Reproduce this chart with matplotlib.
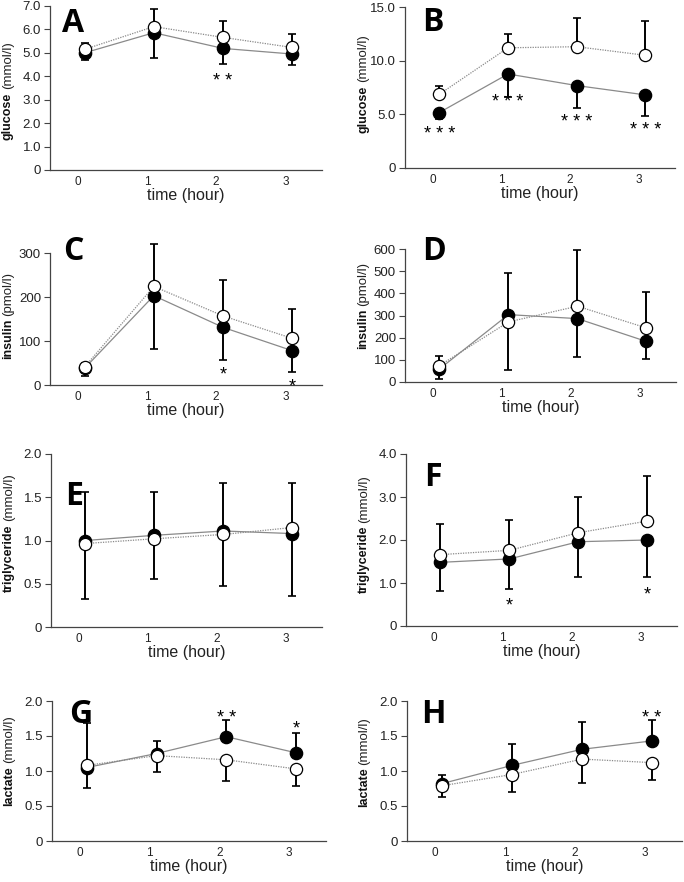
import matplotlib
matplotlib.use('Agg')
import matplotlib.pyplot as plt
import matplotlib.transforms as mtransforms
import numpy as np

plt.rcParams['font.family'] = ['Liberation Sans', 'DejaVu Sans']

hours = [0, 1, 2, 3]

# A - glucose
a_filled = [5.0, 5.86, 5.19, 4.95]
a_filled_sd = [0.31, 1.08, 0.68, 0.47]
a_open = [5.15, 6.12, 5.66, 5.23]
a_open_sd = [0.28, 0.74, 0.71, 0.56]
a_stars = [(2, '**', 4.05)]

# B - glucose
b_filled = [5.17, 8.76, 7.68, 6.81]
b_filled_sd = [0.57, 2.1, 2.11, 1.95]
b_open = [6.87, 11.2, 11.3, 10.5]
b_open_sd = [0.73, 1.3, 2.7, 3.2]
b_stars = [(0, '***', 3.7), (1, '***', 6.65), (2, '***', 4.8), (3, '***', 4.0)]

# C - insulin
c_filled = [38, 203, 131, 78]
c_filled_sd = [17, 122, 74, 49]
c_open = [41, 224, 157, 106]
c_open_sd = [8, 97, 82, 67]
c_stars = [(2, '*', 36), (3, '*', 9)]

# D - insulin
d_filled = [59, 304, 286, 183]
d_filled_sd = [45, 188, 175, 78]
d_open = [74, 271, 342, 244]
d_open_sd = [45, 215, 255, 160]
d_stars = []

# E - triglyceride
e_filled = [1.00, 1.06, 1.11, 1.08]
e_filled_sd = [0.56, 0.50, 0.55, 0.72]
e_open = [0.965, 1.02, 1.07, 1.15]
e_open_sd = [0.64, 0.47, 0.60, 0.52]
e_stars = []

# F - triglyceride
f_filled = [1.48, 1.56, 1.96, 2.0]
f_filled_sd = [0.67, 0.71, 0.82, 0.85]
f_open = [1.66, 1.76, 2.17, 2.44]
f_open_sd = [0.71, 0.70, 0.83, 1.05]
f_stars = [(1, '*', 0.6), (3, '*', 0.87)]

# G - lactate
g_filled = [1.05, 1.25, 1.49, 1.26]
g_filled_sd = [0.29, 0.18, 0.24, 0.29]
g_open = [1.08, 1.22, 1.16, 1.03]
g_open_sd = [0.60, 0.24, 0.30, 0.24]
g_stars = [(2, '**', 1.83), (3, '*', 1.68)]

# H - lactate
h_filled = [0.82, 1.08, 1.31, 1.43]
h_filled_sd = [0.13, 0.30, 0.39, 0.30]
h_open = [0.79, 0.95, 1.17, 1.12]
h_open_sd = [0.16, 0.25, 0.34, 0.25]
h_stars = [(3, '**', 1.84)]

glucose_a_ticks = [0, 1, 2, 3, 4, 5, 6, 7]
glucose_a_labels = ['0', '1.0', '2.0', '3.0', '4.0', '5.0', '6.0', '7.0']
glucose_b_ticks = [0, 5, 10, 15]
glucose_b_labels = ['0', '5.0', '10.0', '15.0']
insulin_c_ticks = [0, 100, 200, 300]
insulin_d_ticks = [0, 100, 200, 300, 400, 500, 600]
tg_e_ticks = [0, 0.5, 1.0, 1.5, 2.0]
tg_e_labels = ['0', '0.5', '1.0', '1.5', '2.0']
tg_f_ticks = [0, 1, 2, 3, 4]
tg_f_labels = ['0', '1.0', '2.0', '3.0', '4.0']
lac_ticks = [0, 0.5, 1.0, 1.5, 2.0]
lac_labels = ['0', '0.5', '1.0', '1.5', '2.0']

W, H = 684, 882
fig = plt.figure(figsize=(W / 100, H / 100), dpi=100)


def px_axes(left, right, top, bottom):
    return fig.add_axes([left / W, (H - bottom) / H, (right - left) / W, (bottom - top) / H])


def panel(ax, filled, filled_sd, opn, opn_sd, stars, ylim, ticks, labels,
          name, unit, split, letter, letter_xy):
    x = np.array(hours) + 0.1
    f = np.array(filled, float)
    o = np.array(opn, float)
    fs = np.array(filled_sd, float)
    osd = np.array(opn_sd, float)
    # the higher mean gets the upper bar, the lower mean the lower bar
    f_high = f >= o
    f_err = [np.where(f_high, 0, fs), np.where(f_high, fs, 0)]
    o_err = [np.where(f_high, osd, 0), np.where(f_high, 0, osd)]
    for y, err in ((f, f_err), (o, o_err)):
        eb = ax.errorbar(x, y, yerr=err, fmt='none', ecolor='black',
                         elinewidth=1.4, capsize=3, capthick=1.2, zorder=2)
        for art in list(eb.lines[1]) + list(eb.lines[2]):
            art.set_clip_on(False)
    ax.plot(x, f, '-', color='#8a8a8a', lw=0.9, zorder=3)
    ax.plot(x, o, linestyle=(0, (1, 1)), color='#8a8a8a', lw=0.9, zorder=3)
    ax.plot(x, f, 'o', ms=8.8, mfc='black', mec='black', zorder=4, clip_on=False)
    ax.plot(x, o, 'o', ms=8.8, mfc='white', mec='black', mew=0.9, zorder=5,
            clip_on=False)
    for h, s, y in stars:
        ax.annotate(' '.join(s), (h + 0.1, y), xytext=(0, -7.5),
                    textcoords='offset points', ha='center', va='baseline',
                    fontsize=13, zorder=6, annotation_clip=False)

    ax.set_xlim(-0.4, 3.53)
    ax.set_ylim(*ylim)
    ax.set_xticks(hours)
    ax.set_xticklabels([str(h) for h in hours])
    ax.set_yticks(ticks)
    ax.set_yticklabels(labels)
    ax.spines[['top', 'right']].set_visible(False)
    for s in ('left', 'bottom'):
        ax.spines[s].set_color('#444444')
        ax.spines[s].set_linewidth(0.9)
    ax.tick_params(axis='y', direction='out', length=4.5, width=0.8, pad=2,
                   labelsize=9.5, color='#444444', labelcolor='#222222')
    ax.tick_params(axis='x', length=0, pad=4, labelsize=8.5, labelcolor='#222222')
    ax.set_xlabel('time (hour)', fontsize=11.5, labelpad=0, color='#222222')

    base = mtransforms.offset_copy(ax.transAxes, fig=fig, y=-1, units='dots')
    up = mtransforms.offset_copy(ax.transAxes, fig=fig, y=2, units='dots')
    ax.text(-0.155, split, name, transform=base, rotation=90,
            rotation_mode='anchor', ha='right', va='center',
            fontweight='bold', fontsize=9, color='#111111')
    ax.text(-0.155, split, unit, transform=up, rotation=90,
            rotation_mode='anchor', ha='left', va='center', fontsize=9.5,
            color='#222222')
    fig.text(letter_xy[0] / W, 1 - letter_xy[1] / H, letter, ha='left',
             va='top', fontsize=23, fontweight='bold', family='Open Sans')


ax_a = px_axes(50, 322, 6, 170)
panel(ax_a, a_filled, a_filled_sd, a_open, a_open_sd, a_stars, (0, 7),
      glucose_a_ticks, glucose_a_labels, 'glucose', '(mmol/l)', 0.48, 'A', (62, 7))

ax_b = px_axes(405, 675, 7, 168)
panel(ax_b, b_filled, b_filled_sd, b_open, b_open_sd, b_stars, (0, 15),
      glucose_b_ticks, glucose_b_labels, 'glucose', '(mmol/l)', 0.52, 'B', (422, 6))

ax_c = px_axes(50, 322, 253, 385)
panel(ax_c, c_filled, c_filled_sd, c_open, c_open_sd, c_stars, (0, 300),
      insulin_c_ticks, [str(t) for t in insulin_c_ticks], 'insulin', '(pmol/l)',
      0.51, 'C', (63, 235))

ax_d = px_axes(405, 676, 249, 382)
panel(ax_d, d_filled, d_filled_sd, d_open, d_open_sd, d_stars, (0, 600),
      insulin_d_ticks, [str(t) for t in insulin_d_ticks], 'insulin', '(pmol/l)',
      0.56, 'D', (422, 235))

ax_e = px_axes(51, 322, 454, 627)
panel(ax_e, e_filled, e_filled_sd, e_open, e_open_sd, e_stars, (0, 2),
      tg_e_ticks, tg_e_labels, 'triglyceride', '(mmol/l)', 0.6, 'E', (65, 480))

ax_f = px_axes(406, 677, 454, 626)
panel(ax_f, f_filled, f_filled_sd, f_open, f_open_sd, f_stars, (0, 4),
      tg_f_ticks, tg_f_labels, 'triglyceride', '(mmol/l)', 0.59, 'F', (424, 461))

ax_g = px_axes(52, 326, 701, 841)
panel(ax_g, g_filled, g_filled_sd, g_open, g_open_sd, g_stars, (0, 2),
      lac_ticks, lac_labels, 'lactate', '(mmol/l)', 0.54, 'G', (69, 698))

ax_h = px_axes(407, 682, 701, 841)
panel(ax_h, h_filled, h_filled_sd, h_open, h_open_sd, h_stars, (0, 2),
      lac_ticks, lac_labels, 'lactate', '(mmol/l)', 0.53, 'H', (421, 698))

fig.savefig('out.png', dpi=100)
